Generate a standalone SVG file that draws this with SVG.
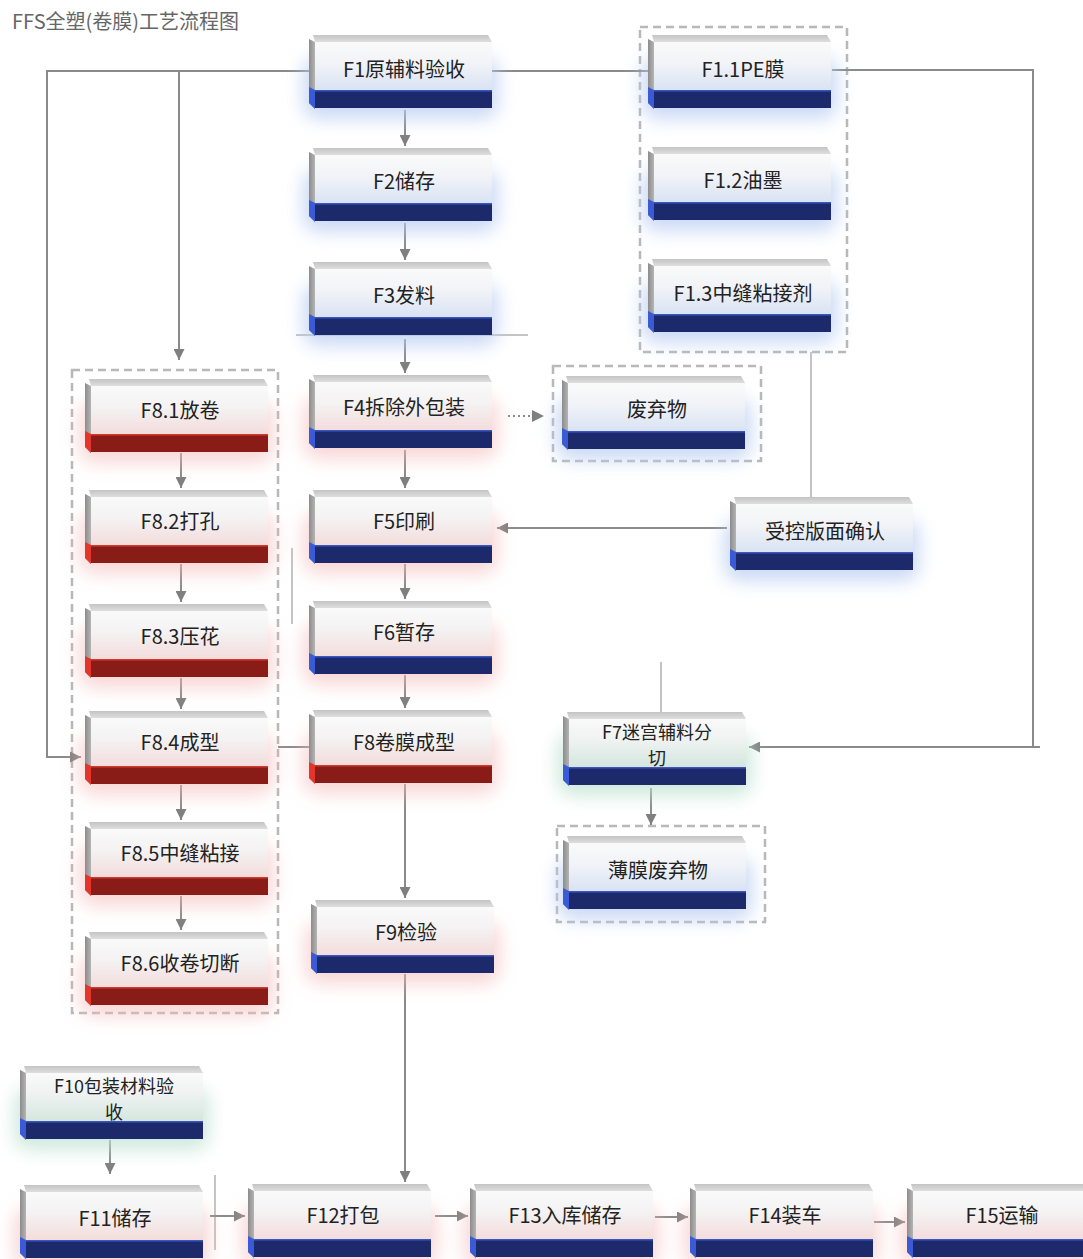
<svg xmlns="http://www.w3.org/2000/svg" xmlns:xlink="http://www.w3.org/1999/xlink" width="1083" height="1259" viewBox="0 0 1083 1259">
<style>
.t{font-family:"Noto Sans CJK SC","Noto Sans",sans-serif;font-size:20px;fill:#222;text-anchor:middle}
.t2{font-family:"Noto Sans CJK SC","Noto Sans",sans-serif;font-size:18px;fill:#222;text-anchor:middle}
.title{font-family:"Noto Sans CJK SC","Noto Sans",sans-serif;font-size:20px;fill:#666}
.ln{stroke:#8a8a8a;stroke-width:2;fill:none}
.thin{stroke:#b0b0b0;stroke-width:1.5;fill:none}
.dot{stroke:#8a8a8a;stroke-width:2;fill:none;stroke-dasharray:2 3}
.grp{stroke:#b8b8b8;stroke-width:2.5;fill:none;stroke-dasharray:8 5}
</style>
<defs>
<filter id="blur" x="-50%" y="-50%" width="200%" height="200%"><feGaussianBlur stdDeviation="9"/></filter>
<linearGradient id="fB" x1="0" y1="0" x2="0" y2="1"><stop offset="0" stop-color="#fafafa"/><stop offset="0.45" stop-color="#f1f3f7"/><stop offset="1" stop-color="#d9e3f4"/></linearGradient>
<linearGradient id="fR" x1="0" y1="0" x2="0" y2="1"><stop offset="0" stop-color="#fafafa"/><stop offset="0.45" stop-color="#f4f2f2"/><stop offset="1" stop-color="#f4dcdc"/></linearGradient>
<linearGradient id="fG" x1="0" y1="0" x2="0" y2="1"><stop offset="0" stop-color="#fafafa"/><stop offset="0.45" stop-color="#eef2f1"/><stop offset="1" stop-color="#d5e6df"/></linearGradient>
<linearGradient id="top" x1="0" y1="0" x2="0" y2="1"><stop offset="0" stop-color="#c4c4c4"/><stop offset="1" stop-color="#dedede"/></linearGradient>
<linearGradient id="side" x1="0" y1="0" x2="1" y2="0"><stop offset="0" stop-color="#8c8c8c"/><stop offset="1" stop-color="#b4b4b4"/></linearGradient>
<marker id="arr" viewBox="0 0 10 10" refX="10" refY="5" markerWidth="12" markerHeight="11" markerUnits="userSpaceOnUse" orient="auto"><path d="M0,0 L10,5 L0,10 z" fill="#7f7f7f"/></marker>
<g id="shape">
<polygon points="4,0 179,0 183,7 6,7" fill="url(#top)"/>
<polygon points="0,4 6,7 6,74 0,68" fill="url(#side)"/>
</g>
<g id="bandN">
<polygon points="0,52 6,55 6,74 0,68" fill="#3a5ad6"/>
<rect x="6" y="55" width="177" height="18" fill="#1c2a6c"/>
<rect x="6" y="55" width="177" height="1.5" fill="#3b56c4"/>
</g>
<g id="bandR">
<polygon points="0,52 6,55 6,74 0,68" fill="#e2352c"/>
<rect x="6" y="55" width="177" height="18" fill="#8a1c17"/>
<rect x="6" y="55" width="177" height="1.5" fill="#d23a30"/>
</g>
<g id="tB">
<rect x="-6" y="22" width="195" height="62" rx="16" fill="#b9cdf2" opacity="0.75" filter="url(#blur)"/>
<use href="#shape"/>
<rect x="6" y="7" width="177" height="48" fill="url(#fB)"/>
<use href="#bandN"/>
</g>
<g id="tR">
<rect x="-6" y="22" width="195" height="62" rx="16" fill="#f5bcbc" opacity="0.6" filter="url(#blur)"/>
<use href="#shape"/>
<rect x="6" y="7" width="177" height="48" fill="url(#fR)"/>
<use href="#bandN"/>
</g>
<g id="tRR">
<rect x="-6" y="22" width="195" height="62" rx="16" fill="#f5bcbc" opacity="0.6" filter="url(#blur)"/>
<use href="#shape"/>
<rect x="6" y="7" width="177" height="48" fill="url(#fR)"/>
<use href="#bandR"/>
</g>
<g id="tG">
<rect x="-6" y="22" width="195" height="62" rx="16" fill="#bfe2d2" opacity="0.75" filter="url(#blur)"/>
<use href="#shape"/>
<rect x="6" y="7" width="177" height="48" fill="url(#fG)"/>
<use href="#bandN"/>
</g>
</defs>
<rect width="1083" height="1259" fill="#ffffff"/>
<text class="title" x="12" y="29">FFS全塑(卷膜)工艺流程图</text>

<g id="groups">
<rect class="grp" x="72" y="370" width="206" height="643"/>
<rect class="grp" x="640" y="27" width="207" height="325"/>
<rect class="grp" x="553" y="366" width="208" height="95"/>
<rect class="grp" x="557" y="826" width="208" height="96"/>
</g>

<g id="connectors">
<polyline class="ln" points="309,71 47,71 47,757 81,757" marker-end="url(#arr)"/>
<polyline class="ln" points="179,71 179,360" marker-end="url(#arr)"/>
<line class="ln" x1="492" y1="71" x2="648" y2="71"/>
<polyline class="ln" points="832,70 1033,70 1033,748"/>
<line class="ln" x1="1040" y1="747" x2="749" y2="747" marker-end="url(#arr)"/>
<line class="ln" x1="405" y1="110" x2="405" y2="146" marker-end="url(#arr)"/>
<line class="ln" x1="405" y1="223" x2="405" y2="260" marker-end="url(#arr)"/>
<line class="thin" x1="296" y1="335" x2="528" y2="335"/>
<line class="ln" x1="405" y1="339" x2="405" y2="373" marker-end="url(#arr)"/>
<line class="dot" x1="508" y1="416" x2="532" y2="416"/>
<path d="M532,410 L544,416 L532,422 z" fill="#7f7f7f"/>
<line class="ln" x1="405" y1="450" x2="405" y2="488" marker-end="url(#arr)"/>
<line class="ln" x1="405" y1="564" x2="405" y2="599" marker-end="url(#arr)"/>
<line class="ln" x1="405" y1="675" x2="405" y2="708" marker-end="url(#arr)"/>
<line class="ln" x1="405" y1="784" x2="405" y2="898" marker-end="url(#arr)"/>
<line class="ln" x1="405" y1="974" x2="405" y2="1182" marker-end="url(#arr)"/>
<line class="thin" x1="811" y1="352" x2="811" y2="497"/>
<line class="ln" x1="727" y1="528" x2="497" y2="528" marker-end="url(#arr)"/>
<line class="thin" x1="661" y1="662" x2="661" y2="712"/>
<line class="ln" x1="651" y1="788" x2="651" y2="825" marker-end="url(#arr)"/>
<line class="ln" x1="278" y1="747" x2="310" y2="747"/>
<line class="thin" x1="292" y1="548" x2="292" y2="624"/>
<line class="ln" x1="181" y1="453" x2="181" y2="488" marker-end="url(#arr)"/>
<line class="ln" x1="181" y1="564" x2="181" y2="602" marker-end="url(#arr)"/>
<line class="ln" x1="181" y1="678" x2="181" y2="709" marker-end="url(#arr)"/>
<line class="ln" x1="181" y1="785" x2="181" y2="820" marker-end="url(#arr)"/>
<line class="ln" x1="181" y1="896" x2="181" y2="930" marker-end="url(#arr)"/>
<line class="ln" x1="110" y1="1140" x2="110" y2="1174" marker-end="url(#arr)"/>
<line class="thin" x1="215" y1="1175" x2="215" y2="1250"/>
<line class="ln" x1="210" y1="1216" x2="245" y2="1216" marker-end="url(#arr)"/>
<line class="ln" x1="435" y1="1216" x2="468" y2="1216" marker-end="url(#arr)"/>
<line class="ln" x1="655" y1="1217" x2="688" y2="1217" marker-end="url(#arr)"/>
<line class="ln" x1="874" y1="1222" x2="905" y2="1222" marker-end="url(#arr)"/>
</g>

<g id="F1"><use href="#tB" x="309" y="35"/><text class="t" x="404" y="77">F1原辅料验收</text></g>
<g id="F2"><use href="#tB" x="309" y="148"/><text class="t" x="404" y="189">F2储存</text></g>
<g id="F3"><use href="#tB" x="309" y="262"/><text class="t" x="404" y="303">F3发料</text></g>
<g id="F4"><use href="#tR" x="309" y="375"/><text class="t" x="404" y="415">F4拆除外包装</text></g>
<g id="F5"><use href="#tR" x="309" y="490"/><text class="t" x="404" y="529">F5印刷</text></g>
<g id="F6"><use href="#tR" x="309" y="601"/><text class="t" x="404" y="640">F6暂存</text></g>
<g id="F8"><use href="#tRR" x="309" y="710"/><text class="t" x="404" y="750">F8卷膜成型</text></g>
<g id="F9"><use href="#tR" x="311" y="900"/><text class="t" x="406" y="940">F9检验</text></g>
<g id="F8_1"><use href="#tRR" x="85" y="379"/><text class="t" x="180" y="418">F8.1放卷</text></g>
<g id="F8_2"><use href="#tRR" x="85" y="490"/><text class="t" x="180" y="529">F8.2打孔</text></g>
<g id="F8_3"><use href="#tRR" x="85" y="604"/><text class="t" x="180" y="644">F8.3压花</text></g>
<g id="F8_4"><use href="#tRR" x="85" y="711"/><text class="t" x="180" y="750">F8.4成型</text></g>
<g id="F8_5"><use href="#tRR" x="85" y="822"/><text class="t" x="180" y="861">F8.5中缝粘接</text></g>
<g id="F8_6"><use href="#tRR" x="85" y="932"/><text class="t" x="180" y="971">F8.6收卷切断</text></g>
<g id="F1_1"><use href="#tB" x="648" y="35"/><text class="t" x="743" y="77">F1.1PE膜</text></g>
<g id="F1_2"><use href="#tB" x="648" y="147"/><text class="t" x="743" y="188">F1.2油墨</text></g>
<g id="F1_3"><use href="#tB" x="648" y="259"/><text class="t" x="743" y="301">F1.3中缝粘接剂</text></g>
<g id="waste"><use href="#tB" x="562" y="376"/><text class="t" x="657" y="417">废弃物</text></g>
<g id="plate"><use href="#tB" x="730" y="497"/><text class="t" x="825" y="539">受控版面确认</text></g>
<g id="F7"><use href="#tG" x="563" y="712"/><text class="t2" x="657" y="739">F7迷宫辅料分</text><text class="t2" x="657" y="765">切</text></g>
<g id="filmwaste"><use href="#tB" x="563" y="836"/><text class="t" x="658" y="878">薄膜废弃物</text></g>
<g id="F10"><use href="#tG" x="20" y="1066"/><text class="t2" x="114" y="1093">F10包装材料验</text><text class="t2" x="114" y="1119">收</text></g>
<g id="F11"><use href="#tR" x="20" y="1185"/><text class="t" x="115" y="1226">F11储存</text></g>
<g id="F12"><use href="#tR" x="248" y="1184"/><text class="t" x="343" y="1223">F12打包</text></g>
<g id="F13"><use href="#tR" x="470" y="1184"/><text class="t" x="565" y="1223">F13入库储存</text></g>
<g id="F14"><use href="#tR" x="690" y="1184"/><text class="t" x="785" y="1223">F14装车</text></g>
<g id="F15"><use href="#tR" x="907" y="1184"/><text class="t" x="1002" y="1223">F15运输</text></g>
</svg>
